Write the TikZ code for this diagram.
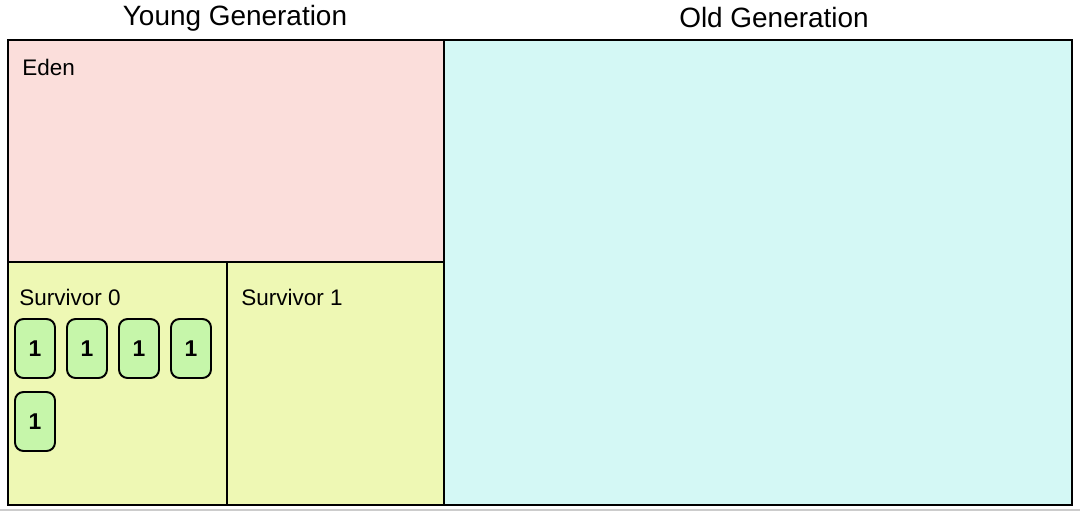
\documentclass[tikz,border=0pt]{standalone}
\usepackage{fontspec}
\setmainfont{Liberation Sans}
\usepackage{tikz}

\definecolor{edenpink}{RGB}{251,222,219}
\definecolor{survyellow}{RGB}{238,248,180}
\definecolor{oldcyan}{RGB}{212,248,245}
\definecolor{objgreen}{RGB}{198,246,170}

\tikzset{
  region/.style = {draw, line width=1.2pt, inner sep=0pt},
  obj/.style = {draw, line width=1.1pt, rounded corners=0.17cm, fill=objgreen,
                minimum width=0.8cm, minimum height=1.18cm, inner sep=0pt,
                font=\fontsize{13}{15}\selectfont\bfseries},
  lbl/.style = {anchor=west, inner sep=0pt, font=\fontsize{12.8}{15}\selectfont},
  head/.style = {inner sep=0pt, font=\fontsize{15.9}{18}\selectfont}
}

\begin{document}
\begin{tikzpicture}[x=0.02cm, y=-0.02cm]

            \useasboundingbox (0,0) rectangle (1080,512);
            \draw[gray!40, line width=1pt] (0,510) -- (1080,510);

            % young generation
            \node[head] (younghead) at (235,18) {Young Generation};
            \node[region, fill=edenpink, minimum width=8.72cm, minimum height=4.44cm] (eden) at (226,151) {};
            \node[lbl] (edenlbl) at (22,67) {Eden};

            \node[region, fill=survyellow, minimum width=4.38cm, minimum height=4.86cm] (surv0) at (117.5,383.5) {};
            \node[region, fill=survyellow, minimum width=4.34cm, minimum height=4.86cm] (surv1) at (335.5,383.5) {};
            \node[lbl] (surv0lbl) at (19,297) {Survivor 0};
            \node[lbl] (surv1lbl) at (241,297) {Survivor 1};

            % objects in survivor 0
            \foreach \i/\x/\y in {a/35/348.5, b/87/348.5, c/139/348.5, d/191/348.5, e/35/421.5}
              \node[obj] (obj\i) at (\x,\y) {1};

            % old generation
            \node[head] (oldhead) at (774,18) {Old Generation};
            \node[region, fill=oldcyan, minimum width=12.56cm, minimum height=9.3cm] (old) at (758,272.5) {};

\end{tikzpicture}
\end{document}
